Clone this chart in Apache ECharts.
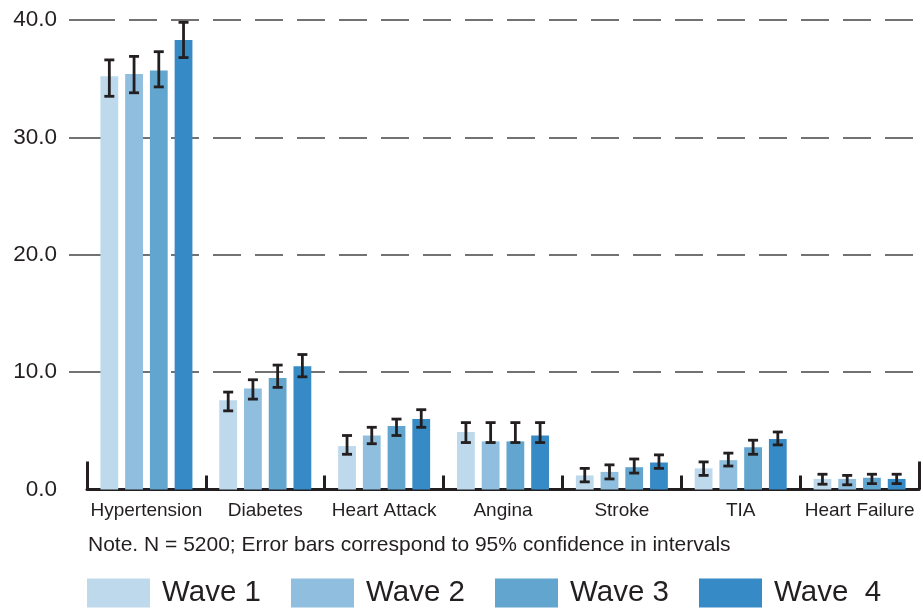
<!DOCTYPE html>
<html>
<head>
<meta charset="utf-8">
<script src="https://cdn.jsdelivr.net/npm/echarts@6/dist/echarts.min.js"></script>
<style>html,body{margin:0;padding:0;background:#fff;}#c{width:923px;height:610px;}</style>
</head>
<body>
<div id="c"></div>
<script>
const categories = ['Hypertension', 'Diabetes', 'Heart Attack', 'Angina', 'Stroke', 'TIA', 'Heart Failure'];
const waveNames = ['Wave 1', 'Wave 2', 'Wave 3', 'Wave  4'];
const wave1 = [35.2, 7.6, 3.7, 4.9, 1.2, 1.8, 0.9];
const wave2 = [35.4, 8.6, 4.6, 4.1, 1.5, 2.5, 0.9];
const wave3 = [35.7, 9.5, 5.4, 4.1, 1.9, 3.6, 1.0];
const wave4 = [38.3, 10.5, 6.0, 4.6, 2.3, 4.3, 0.9];
const wave1Low = [33.5, 6.7, 3.0, 4.0, 0.65, 1.2, 0.45];
const wave1High = [36.6, 8.3, 4.6, 5.7, 1.8, 2.35, 1.3];
const wave2Low = [33.8, 7.7, 3.9, 4.0, 0.9, 2.0, 0.4];
const wave2High = [36.9, 9.35, 5.3, 5.7, 2.1, 3.1, 1.2];
const wave3Low = [34.3, 8.7, 4.6, 4.0, 1.4, 3.0, 0.5];
const wave3High = [37.3, 10.6, 6.0, 5.7, 2.6, 4.2, 1.3];
const wave4Low = [36.8, 9.6, 5.3, 4.0, 1.8, 3.8, 0.5];
const wave4High = [39.8, 11.5, 6.8, 5.7, 2.95, 4.9, 1.3];
const yTicks = [0, 10, 20, 30, 40];
const noteText = 'Note. N = 5200; Error bars correspond to 95% confidence in intervals';

const colors = ['#bdd9eb', '#8fbede', '#62a6d0', '#368ac6'];
const ink = '#231f20';
const font = "'Liberation Sans', Arial, Helvetica, sans-serif";
const BAR_GAP = '39%';
const CAT_GAP = '22.6%';

const values = [wave1, wave2, wave3, wave4];
const lows = [wave1Low, wave2Low, wave3Low, wave4Low];
const highs = [wave1High, wave2High, wave3High, wave4High];

const chart = echarts.init(document.getElementById('c'), null, {renderer: 'canvas'});

const barSeries = values.map((v, k) => ({
  type: 'bar',
  name: waveNames[k],
  data: v,
  barGap: BAR_GAP,
  barCategoryGap: CAT_GAP,
  itemStyle: {color: colors[k]},
  emphasis: {disabled: true},
  z: 2
}));

const errSeries = values.map((v, k) => ({
  type: 'custom',
  name: 'err' + k,
  data: categories.map((c, i) => [i, lows[k][i], highs[k][i]]),
  encode: {x: 0, y: [1, 2]},
  z: 5,
  silent: true,
  renderItem: function (params, api) {
    const layout = api.barLayout({barGap: BAR_GAP, barCategoryGap: CAT_GAP, count: 4});
    const idx = api.value(0);
    const lo = api.coord([idx, api.value(1)]);
    const hi = api.coord([idx, api.value(2)]);
    const x = lo[0] + layout[k].offsetCenter;
    const hw = 5;
    const st = {stroke: ink, lineWidth: 2.8, fill: null};
    return {
      type: 'group',
      children: [
        {type: 'line', shape: {x1: x, y1: lo[1], x2: x, y2: hi[1]}, style: st},
        {type: 'line', shape: {x1: x - hw, y1: lo[1], x2: x + hw, y2: lo[1]}, style: st},
        {type: 'line', shape: {x1: x - hw, y1: hi[1], x2: x + hw, y2: hi[1]}, style: st}
      ]
    };
  }
}));

const option = {
  animation: false,
  backgroundColor: '#fff',
  textStyle: {fontFamily: font, color: ink},
  title: {
    text: noteText,
    left: 88,
    top: 535,
    padding: 0,
    textStyle: {fontFamily: font, fontSize: 21, fontWeight: 'normal', color: ink, lineHeight: 21}
  },
  legend: {
    data: waveNames,
    left: 87,
    top: 578,
    padding: 0,
    icon: 'rect',
    itemWidth: 63,
    itemHeight: 29,
    itemGap: 14,
    selectedMode: false,
    textStyle: {fontFamily: font, fontSize: 29.5, color: ink, width: 115, padding: [0, 0, 0, 7], lineHeight: 29}
  },
  grid: [
    {left: 87, right: 4, top: 20, bottom: 120.5},
    {left: 69, width: 18, top: 20, bottom: 120.5}
  ],
  xAxis: [
    {
      type: 'category', gridIndex: 0, data: categories,
      axisLine: {show: true, lineStyle: {color: ink, width: 3}},
      axisTick: {show: true, inside: true, length: 14, lineStyle: {color: ink, width: 3}},
      axisLabel: {interval: 0, margin: 12, fontFamily: font, fontSize: 19, color: ink, lineHeight: 19},
      splitLine: {show: false}
    },
    {
      type: 'category', gridIndex: 0, data: [''], position: 'bottom',
      axisLine: {show: false},
      axisTick: {show: true, inside: true, length: 28, lineStyle: {color: ink, width: 3}},
      axisLabel: {show: false},
      splitLine: {show: false}
    },
    {type: 'value', gridIndex: 1, show: false, min: 0, max: 1}
  ],
  yAxis: [
    {
      type: 'value', gridIndex: 0, min: yTicks[0], max: yTicks[yTicks.length - 1], interval: 10,
      axisLine: {show: false}, axisTick: {show: false}, axisLabel: {show: false},
      splitLine: {show: true, showMinLine: false, lineStyle: {color: '#444', width: 1.5, type: [28, 14]}}
    },
    {
      type: 'value', gridIndex: 1, min: yTicks[0], max: yTicks[yTicks.length - 1], interval: 10,
      axisLine: {show: false}, axisTick: {show: false},
      axisLabel: {margin: 12, fontFamily: font, fontSize: 22.5, color: ink, padding: [6, 0, 0, 0], formatter: v => v.toFixed(1)},
      splitLine: {show: true, showMinLine: false, lineStyle: {color: '#444', width: 1.5}}
    }
  ],
  series: barSeries.concat(errSeries)
};
chart.setOption(option);
</script>
</body>
</html>
